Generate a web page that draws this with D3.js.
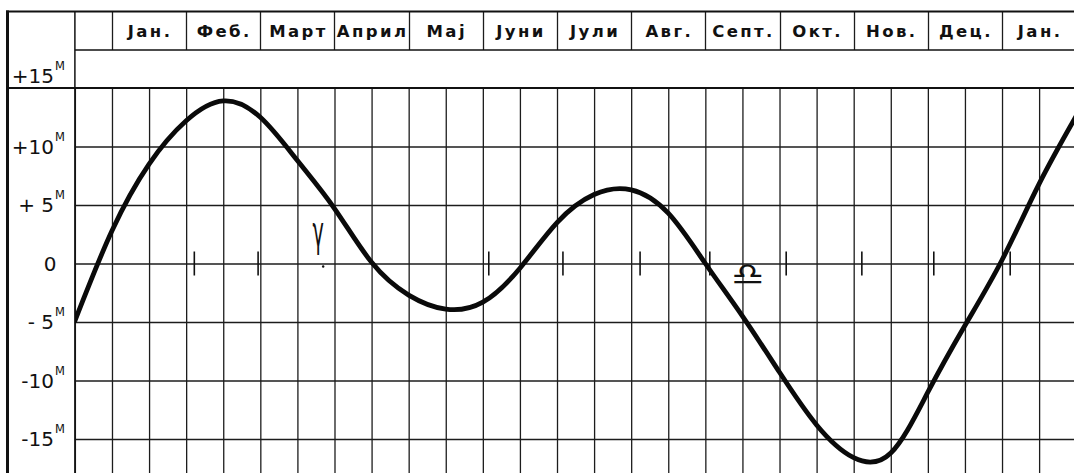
<!DOCTYPE html>
<html>
<head>
<meta charset="utf-8">
<script src="https://cdn.jsdelivr.net/npm/d3@7"></script>
<style>
  html, body { margin: 0; padding: 0; background: #fff; }
  svg { display: block; }
  text { font-family: "DejaVu Sans", sans-serif; fill: #111; }
</style>
</head>
<body>
<svg id="chart" width="1074" height="473"></svg>
<script>
// Month names for the header row (one cell per month, repeated January at the end)
const monthLabels = ["Јан.", "Феб.", "Март", "Април", "Мај", "Јуни", "Јули", "Авг.", "Септ.", "Окт.", "Нов.", "Дец.", "Јан."];

// Equation of time, in minutes, sampled every half month; x is in months from 1 January
const curveMonths  = [-0.5, 0.0, 0.5, 1.0, 1.5, 2.0, 2.5, 3.0, 3.5, 4.0, 4.5, 5.0, 5.5, 6.0, 6.5, 7.0,
                      7.5, 8.0, 8.5, 9.0, 9.5, 10.0, 10.5, 11.0, 11.5, 12.0, 12.5, 13.0];
const curveMinutes = [-4.9, 2.8, 8.5, 12.2, 13.9, 12.5, 8.8, 4.7, 0.1, -2.7, -3.9, -3.3, -0.4, 3.5, 5.9, 6.3,
                      4.3, 0.0, -4.5, -9.3, -13.8, -16.6, -16.2, -11.0, -5.3, 0.3, 6.8, 12.6];

// Minute scale
const minuteValues = [15, 10, 5, 0, -5, -10, -15];
const minuteLabels = ["+15", "+10", "+ 5", "0", "- 5", "-10", "-15"];

// Short marks along the zero line (months from 1 January)
const markMonths = [1.11, 1.97, 5.08, 6.08, 7.12, 8.06, 9.09, 10.11, 11.08, 12.11];

// Equinox signs on the zero line
const signGlyphs = ["γ", "♎"];
const signMonths = [2.78, 8.57];

const W = 1074, H = 473;
const svg = d3.select("#chart");

const x = d3.scaleLinear().domain([-0.5, 13]).range([74.9, 1076.2]);
const y = d3.scaleLinear().domain([-15, 15]).range([439, 88]);

const left = x(-0.5);
const headTop = 11.5, headMid = 50, gridTop = y(15);

// half-month grid columns
const halfMonths = d3.range(-1, 27).map(k => k / 2);

// vertical grid in the plot
svg.append("g")
  .attr("transform", `translate(0,${H})`)
  .call(d3.axisBottom(x).tickValues(halfMonths).tickSize(-(H - gridTop)).tickFormat(""))
  .call(g => g.select(".domain").remove())
  .call(g => g.selectAll("line").attr("stroke", "#1c1c1c").attr("stroke-width", 1.3));

// horizontal grid every 5 minutes
svg.append("g")
  .attr("transform", `translate(${left},0)`)
  .call(d3.axisLeft(y).tickValues(minuteValues.filter(v => v < 15)).tickSize(-(W - left)).tickFormat(""))
  .call(g => g.select(".domain").remove())
  .call(g => g.selectAll("line").attr("stroke", "#1c1c1c").attr("stroke-width", 1.3));

// header: month cells
const monthEdges = d3.range(0, 13);
svg.append("g")
  .selectAll("line")
  .data(monthEdges)
  .join("line")
  .attr("x1", d => Math.round(x(d)) + 0.5).attr("x2", d => Math.round(x(d)) + 0.5)
  .attr("y1", headTop).attr("y2", headMid)
  .attr("stroke", "#1c1c1c").attr("stroke-width", 1.3);

svg.append("g")
  .selectAll("text")
  .data(monthLabels)
  .join("text")
  .attr("x", (d, i) => x(i + 0.5) + 1)
  .attr("y", 37)
  .attr("text-anchor", "middle")
  .attr("font-size", 16.5)
  .attr("font-weight", "bold")
  .attr("letter-spacing", 2.4)
  .text(d => d);

// frame lines
const frame = svg.append("g").attr("stroke", "#111").attr("fill", "none");
frame.append("line").attr("x1", 6).attr("x2", W).attr("y1", headTop).attr("y2", headTop).attr("stroke-width", 2);
frame.append("line").attr("x1", left).attr("x2", W).attr("y1", headMid).attr("y2", headMid).attr("stroke-width", 1.5);
frame.append("line").attr("x1", 6).attr("x2", W).attr("y1", gridTop).attr("y2", gridTop).attr("stroke-width", 2.2);
frame.append("line").attr("x1", left).attr("x2", left).attr("y1", headTop).attr("y2", H).attr("stroke-width", 1.5);
frame.append("line").attr("x1", 7.5).attr("x2", 7.5).attr("y1", headTop - 1).attr("y2", H).attr("stroke-width", 3);

// minute labels with superscript M
const labelG = svg.append("g");
minuteValues.forEach((v, i) => {
  const base = v === 15 ? 83 : y(v) + 7;
  if (v === 0) {
    labelG.append("text").attr("x", 50).attr("y", base).attr("text-anchor", "middle")
      .attr("font-size", 20).text(minuteLabels[i]);
    return;
  }
  labelG.append("text").attr("x", 54).attr("y", base).attr("text-anchor", "end")
    .attr("font-size", 20).text(minuteLabels[i]);
  labelG.append("text").attr("x", 55).attr("y", base - 13).attr("font-size", 11.5).text("M");
});

// marks on the zero line
svg.append("g")
  .selectAll("line")
  .data(markMonths)
  .join("line")
  .attr("x1", d => x(d)).attr("x2", d => x(d))
  .attr("y1", y(0) - 12).attr("y2", y(0) + 12)
  .attr("stroke", "#111").attr("stroke-width", 1.6);

// equinox signs
const signs = svg.append("g");
signs.append("text")
  .attr("transform", `translate(${x(signMonths[0])},${y(0) - 18}) scale(0.6,1.35)`)
  .attr("text-anchor", "middle").attr("font-size", 32).text(signGlyphs[0]);
signs.append("circle").attr("cx", x(signMonths[0]) + 5).attr("cy", y(0) + 3).attr("r", 1.2).attr("fill", "#111");
signs.append("text")
  .attr("transform", `translate(${x(signMonths[1])},${y(0) + 21}) scale(1.15,1)`)
  .attr("text-anchor", "middle").attr("font-size", 32).text(signGlyphs[1]);

// the curve
const pts = curveMonths.map((m, i) => [m, curveMinutes[i]]);
svg.append("defs").append("clipPath").attr("id", "plotClip")
  .append("rect").attr("x", left).attr("y", gridTop).attr("width", W - left).attr("height", H - gridTop);

svg.append("path")
  .datum(pts)
  .attr("clip-path", "url(#plotClip)")
  .attr("fill", "none")
  .attr("stroke", "#0a0a0a")
  .attr("stroke-width", 4.8)
  .attr("stroke-linecap", "round")
  .attr("d", d3.line().x(d => x(d[0])).y(d => y(d[1])).curve(d3.curveNatural));
</script>
</body>
</html>
